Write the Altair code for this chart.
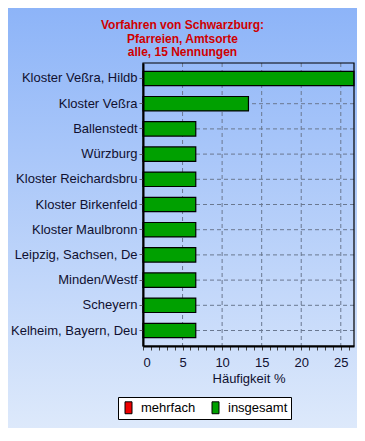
import altair as alt
import pandas as pd

categories = ["Kloster Veßra, Hildb", "Kloster Veßra", "Ballenstedt", "Würzburg",
              "Kloster Reichardsbru", "Kloster Birkenfeld", "Kloster Maulbronn",
              "Leipzig, Sachsen, De", "Minden/Westf", "Scheyern", "Kelheim, Bayern, Deu"]
values = [26.67, 13.33, 6.67, 6.67, 6.67, 6.67, 6.67, 6.67, 6.67, 6.67, 6.67]
series = ["insgesamt"] * len(categories)
legend_names = ["mehrfach", "insgesamt"]
legend_colors = ["#ee0000", "#00a000"]
x_grid = [5, 10, 15, 20, 25]
x_ticks = list(range(0, 27))
title_lines = ["Vorfahren von Schwarzburg:", "Pfarreien, Amtsorte", "alle, 15 Nennungen"]

df = pd.DataFrame({"ort": categories, "wert": values, "serie": series})
gdf = pd.DataFrame({"g": x_grid})
bgdf = pd.DataFrame({"a": [0]})

FONT = "Liberation Sans"
xscale = alt.Scale(domain=[0, 26.67], nice=False, zero=True)
yscale = alt.Scale(domain=categories, paddingInner=0.43, paddingOuter=0.33)

xaxis = alt.Axis(values=x_ticks, labelExpr="datum.value % 5 == 0 ? datum.label : ''",
                 tickSize=4, tickColor="#404040", domainColor="black", domainWidth=2,
                 labelColor="#101030", labelFontSize=13, labelFont=FONT,
                 labelPadding=6, titleFont=FONT, titleFontSize=13,
                 titleFontWeight="normal", titleColor="#101030", titlePadding=3,
                 grid=False, zindex=2)
yaxis = alt.Axis(tickSize=4, tickColor="#606060", domainColor="black", domainWidth=2,
                 labelColor="#101030", labelFontSize=13, labelFont=FONT,
                 labelPadding=2, grid=False, zindex=2)

grad = alt.LinearGradient(gradient="linear", x1=0, x2=0, y1=0, y2=1,
                          stops=[alt.GradientStop(color="#8db4f8", offset=0),
                                 alt.GradientStop(color="#dde9fb", offset=1)])

bg = alt.Chart(bgdf).mark_rect(fill=grad).encode(
    x=alt.value(-135), x2=alt.value(214), y=alt.value(-55), y2=alt.value(365)
)

vgrid = alt.Chart(gdf).mark_rule(color="#6a7890", strokeDash=[4, 3], strokeWidth=1).encode(
    x=alt.X("g:Q", scale=xscale, axis=xaxis, title="Häufigkeit %")
)
hgrid = alt.Chart(df).mark_rule(color="#6a7890", strokeDash=[4, 3], strokeWidth=1).encode(
    y=alt.Y("ort:N", scale=yscale, axis=yaxis, sort=categories, title=None)
)

bars = alt.Chart(df).mark_bar(stroke="black", strokeWidth=1.2).encode(
    x=alt.X("wert:Q", scale=xscale, title="Häufigkeit %", axis=xaxis),
    y=alt.Y("ort:N", scale=yscale, sort=categories, title=None, axis=yaxis),
    color=alt.Color("serie:N", scale=alt.Scale(domain=legend_names, range=legend_colors),
                    legend=alt.Legend(title=None, orient="none", legendX=-25, legendY=334,
                                      direction="horizontal", fillColor="white",
                                      strokeColor="black", padding=3,
                                      symbolType="M-0.5,-0.85H0.5V0.85H-0.5Z",
                                      symbolSize=196, symbolStrokeColor="black",
                                      symbolStrokeWidth=1, labelFontSize=13, labelFont=FONT,
                                      labelColor="black", labelOffset=5, columnPadding=12,
                                      zindex=2)),
)

frame = alt.Chart(bgdf).mark_rect(fill="transparent", stroke="black", strokeWidth=1.2).encode(
    x=alt.value(0), x2=alt.value("width"), y=alt.value(0), y2=alt.value("height")
)

chart = alt.layer(bg, vgrid, hgrid, bars, frame).properties(
    width=211, height=283,
    autosize=alt.AutoSizeParams(type="none"),
    padding={"left": 135, "top": 55, "right": 3, "bottom": 82},
    title=alt.Title(title_lines, font=FONT, fontSize=12, fontWeight="bold", color="#d00000",
                    anchor="middle", frame="group", dx=-66, dy=51, offset=0, lineHeight=13.5,
                    zindex=2),
).configure_view(stroke=None)

chart.save("out.html", embed_options={"renderer": "svg", "actions": False})
